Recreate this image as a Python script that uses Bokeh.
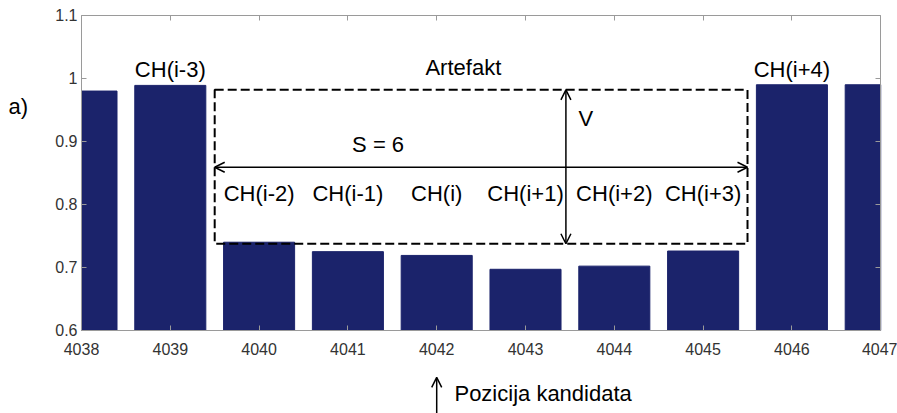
from bokeh.plotting import figure
from bokeh.models import (Range1d, FixedTicker, LinearAxis, Label, Arrow, OpenHead,
                          PrintfTickFormatter, CustomJSTickFormatter)
from bokeh.core.properties import value
from bokeh.embed import file_html
from bokeh.resources import INLINE

# ---- data ----
positions = [4038, 4039, 4040, 4041, 4042, 4043, 4044, 4045, 4046, 4047]
values = [0.980, 0.989, 0.740, 0.725, 0.719, 0.697, 0.702, 0.726, 0.990, 0.990]
x_ticks = [4038, 4039, 4040, 4041, 4042, 4043, 4044, 4045, 4046, 4047]
y_ticks = [0.6, 0.7, 0.8, 0.9, 1.0, 1.1]
top_labels_x = [4039, 4046]
top_labels = ["CH(i-3)", "CH(i+4)"]
inner_labels_x = [4040, 4041, 4042, 4043, 4044, 4045]
inner_labels = ["CH(i-2)", "CH(i-1)", "CH(i)", "CH(i+1)", "CH(i+2)", "CH(i+3)"]
candidate_pos = 4042

FONT = "Liberation Sans"
BAR = "#1b236b"
AX = "#9a9a9a"
TXT = "22px"

x_lo, x_hi = x_ticks[0], x_ticks[-1]
y_base, y_top = y_ticks[0], y_ticks[-1]
bar_w = 0.8

p = figure(width=897, height=413, output_backend="svg", toolbar_location=None,
           x_range=Range1d(4037.088, 4047.189), y_range=Range1d(0.468, 1.1238),
           min_border=0, min_border_left=0, min_border_right=0,
           min_border_top=0, min_border_bottom=0)
p.grid.visible = False
p.outline_line_color = None

xa = p.xaxis[0]
ya = p.yaxis[0]
for ax in (xa, ya):
    ax.axis_line_color = AX
    ax.major_tick_line_color = AX
    ax.major_tick_in = 5
    ax.major_tick_out = 0
    ax.minor_tick_line_color = None
    ax.major_label_text_font = FONT
    ax.major_label_text_font_size = "16px"
    ax.major_label_text_color = "#333333"
xa.ticker = FixedTicker(ticks=x_ticks)
xa.fixed_location = y_base
xa.bounds = (x_lo, x_hi)
xa.major_label_standoff = 13
ya.ticker = FixedTicker(ticks=y_ticks)
ya.formatter = PrintfTickFormatter(format="%g")
ya.major_label_standoff = 4
ya.fixed_location = x_lo
ya.bounds = (y_base, y_top)

top_ax = LinearAxis(ticker=FixedTicker(ticks=x_ticks), formatter=CustomJSTickFormatter(code="return ''"),
                    major_label_standoff=0, major_tick_in=5, major_tick_out=0,
                    axis_line_color=AX, major_tick_line_color=AX, minor_tick_line_color=None,
                    fixed_location=y_top, bounds=(x_lo, x_hi))
right_ax = LinearAxis(ticker=FixedTicker(ticks=y_ticks), formatter=CustomJSTickFormatter(code="return ''"),
                      major_label_standoff=0, major_tick_in=5, major_tick_out=0,
                      axis_line_color=AX, major_tick_line_color=AX, minor_tick_line_color=None,
                      fixed_location=x_hi, bounds=(y_base, y_top))
p.add_layout(top_ax, "above")
p.add_layout(right_ax, "right")

# bars, cut at the axes box like the original
lefts = [max(x - bar_w / 2, x_lo) for x in positions]
rights = [min(x + bar_w / 2, x_hi) for x in positions]
p.quad(left=lefts, right=rights, top=values, bottom=y_base, fill_color=BAR, line_color=BAR)

# dashed artefact box spanning the inner channels
box_left = inner_labels_x[0] - 0.5
box_right = inner_labels_x[-1] + 0.5
box_top = 0.982
box_bottom = 0.7376
p.quad(left=[box_left], right=[box_right], top=[box_top], bottom=[box_bottom],
       fill_alpha=0, line_color="black", line_width=2, line_dash="9 4")

# S arrow (horizontal) and V arrow (vertical)
s_y = 0.859
p.add_layout(Arrow(x_start=box_left, x_end=box_right, y_start=s_y, y_end=s_y,
                   start=OpenHead(size=10, line_width=1.5), end=OpenHead(size=10, line_width=1.5),
                   line_width=1.5, line_color="black"))
v_x = 4043.455
p.add_layout(Arrow(x_start=v_x, x_end=v_x, y_start=box_bottom, y_end=box_top,
                   start=OpenHead(size=10, line_width=1.5), end=OpenHead(size=10, line_width=1.5),
                   line_width=1.5, line_color="black"))

p.text(x=top_labels_x, y=[1.014, 1.014], text=top_labels, text_font=value(FONT),
       text_font_size=TXT, text_align="center", text_baseline="middle", text_color="black")
p.text(x=inner_labels_x, y=[0.818] * 6, text=inner_labels, text_font=value(FONT),
       text_font_size=TXT, text_align="center", text_baseline="middle", text_color="black")

for txt, x, y, align in [("Artefakt", 4042.3, 1.017, "center"),
                         ("S = 6", 4041.34, 0.895, "center"),
                         ("V", 4043.68, 0.936, "center"),
                         ("a)", 4037.178, 0.9555, "left")]:
    p.add_layout(Label(x=x, y=y, text=txt, text_font=FONT, text_font_size=TXT,
                       text_align=align, text_baseline="middle", text_color="black"))

p.add_layout(Label(x=4042.2, y=0.4995, text="Pozicija kandidata", text_font=FONT,
                   text_font_size=TXT, text_align="left", text_baseline="middle",
                   text_color="black"))
p.add_layout(Arrow(x_start=candidate_pos, x_end=candidate_pos, y_start=0.468, y_end=0.5254,
                   end=OpenHead(size=10, line_width=1.5), line_width=1.5, line_color="black"))

open("out.html", "w").write(file_html(p, INLINE))
